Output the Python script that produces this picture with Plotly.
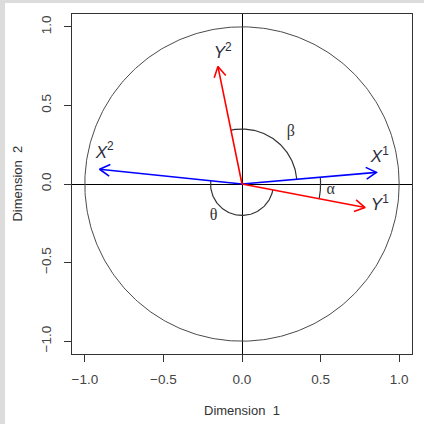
import numpy as np
import plotly.graph_objects as go

# Loadings of the four variables on the first two dimensions
var_names = ["X1", "X2", "Y1", "Y2"]
var_x = [0.855, -0.906, 0.783, -0.153]
var_y = [0.074, 0.094, -0.150, 0.747]
var_colors = ["#0000ff", "#0000ff", "#ff0000", "#ff0000"]

# Label text and label anchor points
label_text = ["<i>X</i><sup>1</sup>", "<i>X</i><sup>2</sup>",
              "<i>Y</i><sup>1</sup>", "<i>Y</i><sup>2</sup>"]
label_x = [0.877, -0.874, 0.877, -0.123]
label_y = [0.166, 0.195, -0.140, 0.828]

# Angle arcs: (from variable, to variable, radius, symbol, symbol position)
arc_defs = [
    ("X1", "Y2", 0.35, "β", 0.31, 0.33),
    ("X2", "Y1", 0.20, "θ", -0.18, -0.206),
    ("Y1", "X1", 0.50, "α", 0.565, -0.04),
]

tick_vals = [-1.0, -0.5, 0.0, 0.5, 1.0]
tick_text = ["\u22121.0", "\u22120.5", "0.0", "0.5", "1.0"]
lim = 1.0816

vec = {n: (x, y) for n, x, y in zip(var_names, var_x, var_y)}

fig = go.Figure()

# Unit circle
t = np.linspace(0, 2 * np.pi, 400)
fig.add_trace(go.Scatter(x=np.cos(t), y=np.sin(t), mode="lines",
                         line=dict(color="#4a4a4a", width=1),
                         hoverinfo="skip", showlegend=False))

# Angle arcs between variable directions
for a, b, r, sym, sx, sy in arc_defs:
    a0 = np.arctan2(vec[a][1], vec[a][0])
    a1 = np.arctan2(vec[b][1], vec[b][0])
    if a1 < a0:
        a1 += 2 * np.pi
    th = np.linspace(a0, a1, 120)
    fig.add_trace(go.Scatter(x=r * np.cos(th), y=r * np.sin(th), mode="lines",
                             line=dict(color="#333333", width=1.2),
                             hoverinfo="skip", showlegend=False))

# Arrows with open heads
head_len = 0.075
head_ang = np.deg2rad(30)
for n, x, y, c in zip(var_names, var_x, var_y, var_colors):
    phi = np.arctan2(y, x)
    hx1 = x - head_len * np.cos(phi - head_ang)
    hy1 = y - head_len * np.sin(phi - head_ang)
    hx2 = x - head_len * np.cos(phi + head_ang)
    hy2 = y - head_len * np.sin(phi + head_ang)
    fig.add_trace(go.Scatter(x=[0, x, None, hx1, x, hx2],
                             y=[0, y, None, hy1, y, hy2],
                             mode="lines", line=dict(color=c, width=1.6),
                             hoverinfo="skip", showlegend=False, name=n))

# Variable labels
fig.add_trace(go.Scatter(x=label_x, y=label_y, mode="text", text=label_text,
                         textfont=dict(family="Liberation Sans", size=17,
                                       color="#2b2d3e"),
                         hoverinfo="skip", showlegend=False))

# Angle symbols
fig.add_trace(go.Scatter(x=[d[4] for d in arc_defs], y=[d[5] for d in arc_defs],
                         mode="text", text=[d[3] for d in arc_defs],
                         textfont=dict(family="Liberation Serif", size=16,
                                       color="#333333"),
                         hoverinfo="skip", showlegend=False))

axis_common = dict(range=[-lim, lim], tickvals=tick_vals, ticktext=tick_text,
                   ticks="outside", ticklen=7, tickwidth=1, tickcolor="#333333",
                   showline=True, linecolor="#333333", linewidth=1, mirror=True,
                   showgrid=False, zeroline=True, zerolinecolor="#000000",
                   zerolinewidth=1,
                   tickfont=dict(family="Liberation Sans", size=13.5, color="#444444"))

fig.update_layout(
    width=424, height=424,
    margin=dict(l=72, r=12, t=14, b=70),
    paper_bgcolor="#dcdcdc", plot_bgcolor="#ffffff",
    xaxis=dict(**axis_common, ticklabelstandoff=6),
    yaxis=dict(**axis_common, tickangle=-90, ticklabelstandoff=8,
               scaleanchor="x", scaleratio=1),
    shapes=[dict(type="rect", xref="paper", yref="paper",
                 x0=(5 - 72) / 340, x1=(424 - 72) / 340,
                 y0=(354 - 424) / 340, y1=(354 - 3) / 340,
                 fillcolor="#ffffff", line=dict(width=0), layer="below")],
    annotations=[
        dict(text="Dimension  1", xref="paper", yref="paper", x=0.5, y=-0.167,
             showarrow=False, xanchor="center", yanchor="middle",
             font=dict(family="Liberation Sans", size=13, color="#333333")),
        dict(text="Dimension  2", xref="paper", yref="paper", x=-0.163, y=0.5,
             showarrow=False, xanchor="center", yanchor="middle", textangle=-90,
             font=dict(family="Liberation Sans", size=13, color="#333333")),
    ],
)

fig.write_html("out.html")
